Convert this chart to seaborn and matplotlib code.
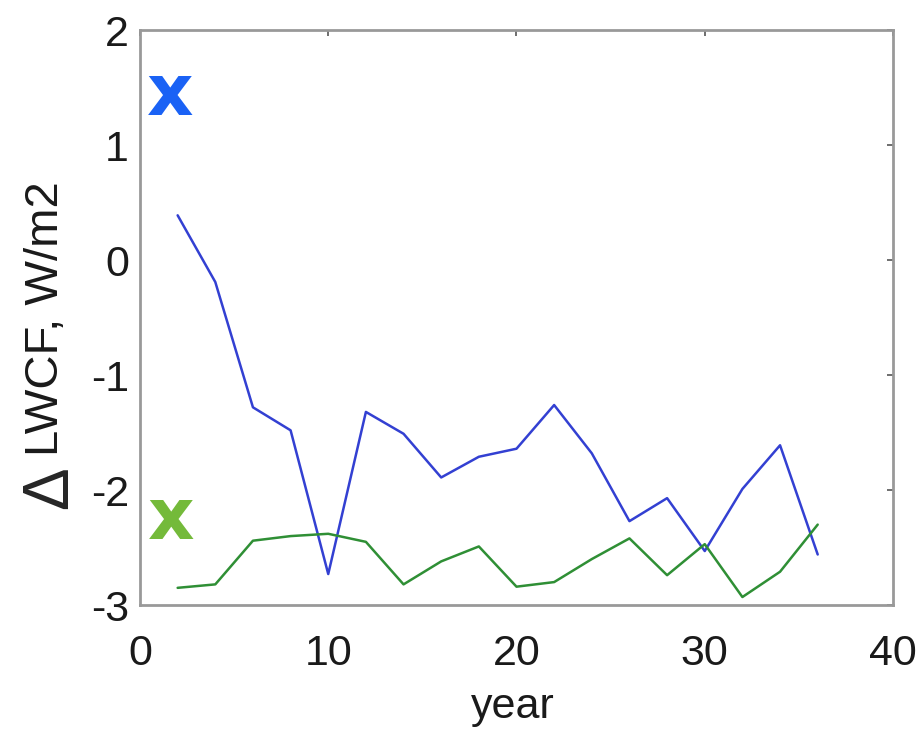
import numpy as np
import pandas as pd
import matplotlib
matplotlib.use("Agg")
import matplotlib.pyplot as plt
import seaborn as sns

years = [2, 4, 6, 8, 10, 12, 14, 16, 18, 20, 22, 24, 26, 28, 30, 32, 34, 36]
blue_vals = [0.39, -0.19, -1.28, -1.48, -2.73, -1.32, -1.51, -1.89, -1.71, -1.64,
             -1.26, -1.68, -2.27, -2.07, -2.53, -1.99, -1.61, -2.56]
green_vals = [-2.85, -2.82, -2.44, -2.40, -2.38, -2.45, -2.82, -2.62, -2.49, -2.84,
              -2.80, -2.60, -2.42, -2.74, -2.47, -2.93, -2.71, -2.30]
marker_x = [1.6, 1.65]
marker_y = [1.43, -2.26]

sns.set_style("white")
plt.rcParams['font.family'] = ['Liberation Sans', 'DejaVu Sans']

df = pd.DataFrame({
    "year": years * 2,
    "val": blue_vals + green_vals,
    "series": ["blue"] * len(years) + ["green"] * len(years),
})

fig = plt.figure(figsize=(9.21, 7.37), dpi=100)
ax = fig.add_axes([0.152, 0.179, 0.8176, 0.780])
sns.lineplot(data=df, x="year", y="val", hue="series",
             palette={"blue": "#3340d2", "green": "#2f8f35"},
             linewidth=1.8, legend=False, ax=ax)

ax.text(marker_x[0], marker_y[0], "x", color="#1a62f5", fontsize=52, fontweight="bold",
        family="DejaVu Sans", ha="center", va="center")
ax.text(marker_x[1], marker_y[1], "x", color="#74ba3a", fontsize=52, fontweight="bold",
        family="DejaVu Sans", ha="center", va="center")

ax.set_xlim(0, 40)
ax.set_ylim(-3, 2)
ax.set_xticks([0, 10, 20, 30, 40])
ax.set_yticks([-3, -2, -1, 0, 1, 2])
ax.set_yticklabels(["-3", "-2", "-1", "0", "1", "2"])
ax.tick_params(direction="in", length=4, width=1.2, color="#555555", labelsize=31,
               top=True, right=True, labelcolor="#1a1a1a")
ax.tick_params(axis="x", pad=21)
ax.tick_params(axis="y", pad=8)
for s in ax.spines.values():
    s.set_color("#999999")
    s.set_linewidth(2.0)
ax.set_xlabel("year", fontsize=31, color="#1a1a1a")
ax.xaxis.set_label_coords(0.495, -0.142)
ax.set_ylabel("LWCF, W/m2", fontsize=34, color="#1a1a1a")
ax.yaxis.set_label_coords(-0.096, 0.499)
fig.text(0.054, 0.338, "Δ", rotation=90, fontsize=46, ha="center", va="center")

fig.savefig("out.png", dpi=100)
